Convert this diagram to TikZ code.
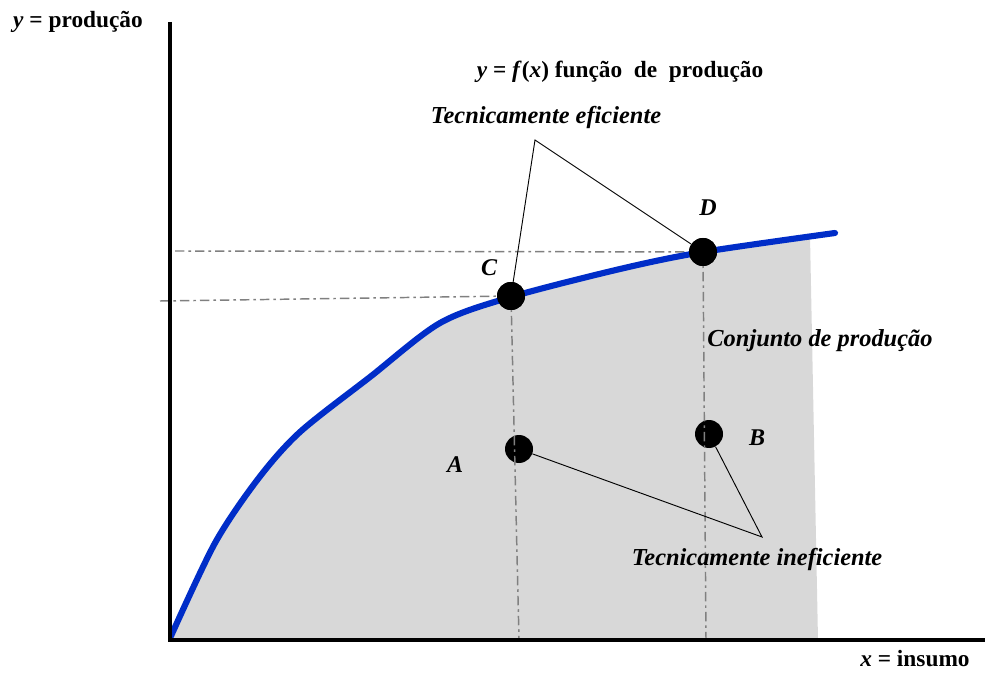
\documentclass[tikz,border=0pt]{standalone}
\usepackage{fontspec}
\setmainfont{Liberation Serif}
\usetikzlibrary{positioning}

\definecolor{curveblue}{RGB}{0,45,200}
\definecolor{setgray}{RGB}{216,216,216}

\begin{document}
\begin{tikzpicture}[
    x=0.75pt, y=-0.75pt,
    font=\fontsize{17.5}{20}\selectfont\bfseries,
    axis/.style={line width=3.6pt},
    guide/.style={gray, line width=1.1pt, dash pattern=on 7pt off 3pt on 2pt off 3pt},
    pointdot/.style={circle, fill=black, inner sep=0pt, minimum size=21pt},
    pointlabel/.style={font=\fontsize{18}{20}\selectfont\bfseries\itshape},
    tag/.style={font=\fontsize{18.3}{20}\selectfont\bfseries\itshape},
    leader/.style={line width=0.7pt},
]
\useasboundingbox (0,0) rectangle (985,673);

% production set
\fill[setgray] plot[smooth, tension=0.5] coordinates {(171,636) (215,543)
    (258,479) (300,432) (370,377) (440,323) (511,297) (620,269) (703,252)
    (810,236)} -- (818,640) -- (171,640) -- cycle;

% points
\node[pointdot] (C) at (511,296) {};
\node[pointdot] (D) at (703,252) {};
\node[pointdot] (A) at (519,449) {};
\node[pointdot] (B) at (709,434) {};

% guide lines
\draw[guide] (175,251) -- (D.center);
\draw[guide] (160,301) -- (C.center);
\draw[guide] (C.center) -- (519,640);
\draw[guide] (D.center) -- (706,640);

% production function
\draw[curveblue, line width=4.6pt, line cap=round] plot[smooth, tension=0.5]
    coordinates {(171,636) (215,543) (258,479) (300,432) (370,377) (440,323)
    (511,297) (620,269) (703,252) (835,233)};

\node[pointdot] at (C) {};
\node[pointdot] at (D) {};

% axes
\draw[axis] (170,22) -- (170,640) -- (985,640);

% labels
\node (ylab) at (78,22) {\textit{y} = produção};
\node[inner sep=1pt] (xlab) at (915,659) {\textit{x} = insumo};
\node (flab) at (620,72) {\textit{y} = \textit{f}(\textit{x}) função\enspace de\enspace produção};
\node[tag] (efic) at (546,118) {Tecnicamente eficiente};
\node[tag] (inefic) at (757,560) {Tecnicamente ineficiente};
\node[tag] (conj) at (820,341) {Conjunto de produção};
\node[pointlabel] (Clab) at (489,268) {C};
\node[pointlabel] (Dlab) at (708,208) {D};
\node[pointlabel] (Alab) at (455,465) {A};
\node[pointlabel] (Blab) at (757,438) {B};

% leaders
\coordinate (eficapex) at (535,140);
\coordinate (inefapex) at (762,537);
\draw[leader] (C) -- (eficapex) -- (D);
\draw[leader] (A) -- (inefapex) -- (B);
\end{tikzpicture}
\end{document}
